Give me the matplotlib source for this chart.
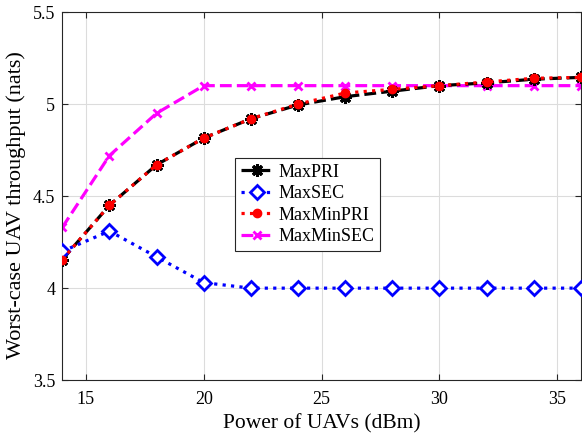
import numpy as np
import matplotlib
matplotlib.use("Agg")
import matplotlib.pyplot as plt

plt.rcParams['font.family'] = ['Liberation Serif', 'DejaVu Serif']
plt.rcParams['mathtext.fontset'] = 'stix'

power = [14, 16, 18, 20, 22, 24, 26, 28, 30, 32, 34, 36]
max_pri = [4.155, 4.45, 4.67, 4.815, 4.92, 4.995, 5.04, 5.07, 5.10, 5.115, 5.135, 5.145]
max_sec = [4.20, 4.31, 4.17, 4.03, 4.00, 4.00, 4.00, 4.00, 4.00, 4.00, 4.00, 4.00]
max_min_pri = [4.155, 4.45, 4.67, 4.815, 4.92, 5.00, 5.06, 5.08, 5.10, 5.12, 5.14, 5.145]
max_min_sec = [4.33, 4.72, 4.95, 5.10, 5.10, 5.10, 5.10, 5.10, 5.10, 5.10, 5.10, 5.10]

fig = plt.figure(figsize=(5.82, 4.37), dpi=100)
ax = fig.add_axes([0.107, 0.13, 0.891, 0.8425])

lw = 2.3
ax.plot(power, max_pri, color='k', ls='--', lw=lw, marker=(8, 2, 0), ms=9, mew=2.2,
        label='MaxPRI', zorder=3)
ax.plot(power, max_sec, color='#0000ff', ls=':', lw=lw, marker='D', ms=7, mew=2,
        mfc='white', label='MaxSEC', zorder=3)
ax.plot(power, max_min_pri, color='#ff0000', ls=':', lw=lw, marker='o', ms=6,
        mfc='#ff0000', label='MaxMinPRI', zorder=4)
ax.plot(power, max_min_sec, color='#ff00ff', ls='--', lw=lw, marker='x', ms=6, mew=2,
        label='MaxMinSEC', zorder=2)

ax.set_xlim(14, 36)
ax.set_ylim(3.5, 5.5)
ax.set_xticks([15, 20, 25, 30, 35])
ax.set_yticks([3.5, 4, 4.5, 5, 5.5])
ax.set_yticklabels(['3.5', '4', '4.5', '5', '5.5'])
ax.grid(True, color='#dcdcdc', lw=0.8)
ax.set_axisbelow(True)
ax.tick_params(direction='in', top=True, right=True, labelsize=13, length=4,
               color='#262626', pad=5)
ax.tick_params(axis='x', pad=8)
for s in ax.spines.values():
    s.set_color('#262626')
    s.set_linewidth(0.8)

ax.set_xlabel('Power of UAVs (dBm)', fontsize=15.5, labelpad=4)
ax.set_ylabel('Worst-case UAV throughput (nats)', fontsize=16)
ax.yaxis.set_label_coords(-0.07, 0.475)

leg = ax.legend(loc='upper left', bbox_to_anchor=(0.334, 0.603), fontsize=13,
                fancybox=False, framealpha=1, edgecolor='#262626', handlelength=1.8,
                handletextpad=0.3, borderpad=0.3, labelspacing=0.25, borderaxespad=0)
leg.get_frame().set_linewidth(0.8)

fig.savefig('out.png', dpi=100)
